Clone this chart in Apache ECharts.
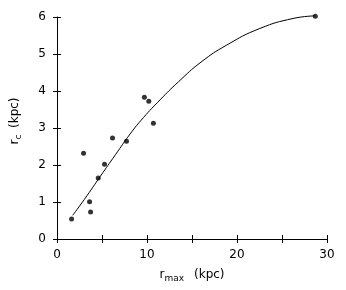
<!DOCTYPE html>
<html><head><meta charset="utf-8">
<script src="https://cdn.jsdelivr.net/npm/echarts@6/dist/echarts.min.js"></script>
<style>html,body{margin:0;padding:0;background:#fff}#c{width:346px;height:290px}</style>
</head><body><div id="c"></div>
<script>
var rmax = [1.62, 2.95, 3.62, 3.73, 4.58, 5.28, 6.17, 7.72, 9.71, 10.2, 10.71, 28.7];
var rc   = [0.54, 2.32, 1.01, 0.73, 1.65, 2.02, 2.73, 2.64, 3.83, 3.72, 3.13, 6.02];
var fitX = [1.75, 3.33, 4.80, 6.50, 8.13, 9.60, 11.45, 13.50, 16.00, 18.85, 22.54, 26.23, 28.64];
var fitY = [0.64, 1.17, 1.69, 2.28, 2.84, 3.28, 3.76, 4.25, 4.78, 5.24, 5.69, 5.96, 6.03];
var xTicks = [0, 10, 20, 30];
var yTicks = [0, 1, 2, 3, 4, 5, 6];

var font = 'DejaVu Sans';
var pts = rmax.map(function(v,i){return [v, rc[i]];});
var fit = fitX.map(function(v,i){return [v, fitY[i]];});
var chart = echarts.init(document.getElementById('c'));
var lineStyle = {color:'#000', width:1};
chart.setOption({
  animation:false,
  grid:{left:57, right:19, top:17, bottom:51},
  xAxis:[{
    type:'value', min:0, max:30, interval:5,
    axisLine:{onZero:false, lineStyle:lineStyle},
    axisTick:{show:true, length:4, lineStyle:lineStyle},
    splitLine:{show:false},
    axisLabel:{color:'#000', fontFamily:font, fontSize:12, margin:10,
      formatter:function(v){return xTicks.indexOf(v)>=0 ? String(v) : '';}},
    name:'{a|r}{b|max}   {a|(kpc)}', nameLocation:'middle', nameGap:27,
    nameTextStyle:{rich:{a:{fontFamily:font, fontSize:12, color:'#000'}, b:{fontFamily:font, fontSize:9, color:'#000', padding:[8,0,0,0]}}}
  },{
    type:'value', min:0, max:30, interval:5, position:'bottom',
    axisLine:{show:false}, axisLabel:{show:false}, splitLine:{show:false},
    axisTick:{show:true, inside:true, length:4, lineStyle:lineStyle}
  }],
  yAxis:[{
    type:'value', min:0, max:6, interval:1,
    axisLine:{onZero:false, lineStyle:lineStyle},
    axisTick:{show:true, length:4, lineStyle:lineStyle},
    splitLine:{show:false},
    axisLabel:{color:'#000', fontFamily:font, fontSize:12, margin:11,
      formatter:function(v){return yTicks.indexOf(v)>=0 ? String(v) : '';}},
    name:'{a|r}{b|c}  {a|(kpc)}', nameLocation:'middle', nameGap:34,
    nameTextStyle:{padding:[0,0,0,14], rich:{a:{fontFamily:font, fontSize:12, color:'#000'}, b:{fontFamily:font, fontSize:9, color:'#000', padding:[8,0,0,0]}}}
  },{
    type:'value', min:0, max:6, interval:1, position:'left',
    axisLine:{show:false}, axisLabel:{show:false}, splitLine:{show:false},
    axisTick:{show:true, inside:true, length:4, lineStyle:lineStyle}
  }],
  series:[{
    type:'line', data:fit, smooth:0.5, showSymbol:false, clip:false,
    lineStyle:{color:'#000', width:1}, z:2
  },{
    type:'scatter', data:pts, symbol:'circle', symbolSize:5, clip:false,
    itemStyle:{color:'#000'}, z:3
  }]
});
</script></body></html>
